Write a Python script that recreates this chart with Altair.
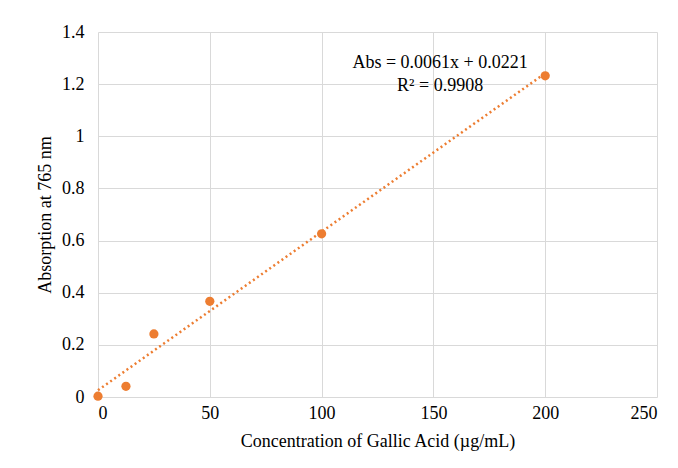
import altair as alt
import pandas as pd

conc = [0, 12.5, 25, 50, 100, 200]
absorb = [0.003, 0.041, 0.242, 0.367, 0.626, 1.232]

ann_x = [153, 153]
ann_y = [1.281, 1.193]
ann_text = ["Abs = 0.0061x + 0.0221", "R² = 0.9908"]

df = pd.DataFrame({"x": conc, "y": absorb})
ann = pd.DataFrame({"x": ann_x, "y": ann_y, "t": ann_text})

ORANGE = "#ED7D31"
FONT = "Liberation Serif"

xs = alt.Scale(domain=[0, 250], nice=False)
ys = alt.Scale(domain=[0, 1.4], nice=False)

xax = alt.Axis(values=[0, 50, 100, 150, 200, 250], title="Concentration of Gallic Acid (µg/mL)",
               domain=False, ticks=False, labelPadding=7, titlePadding=10)
yax = alt.Axis(values=[0, 0.2, 0.4, 0.6, 0.8, 1.0, 1.2, 1.4], title="Absorption at 765 nm",
               domain=False, ticks=False, labelPadding=14, titlePadding=7,
               labelExpr="datum.value == 1 ? '1' : format(datum.value, '.1~f')")

points = alt.Chart(df).mark_circle(size=85, color=ORANGE, opacity=1).encode(
    x=alt.X("x:Q", scale=xs, axis=xax),
    y=alt.Y("y:Q", scale=ys, axis=yax),
)

trend = alt.Chart(df).transform_regression("x", "y", extent=[0, 200]).mark_line(
    color=ORANGE, strokeDash=[2, 3], strokeWidth=2.5
).encode(x=alt.X("x:Q", scale=xs), y=alt.Y("y:Q", scale=ys))

text = alt.Chart(ann).mark_text(font=FONT, fontSize=18, color="#000000", align="center").encode(
    x=alt.X("x:Q", scale=xs), y=alt.Y("y:Q", scale=ys), text="t:N"
)

chart = alt.layer(trend, points, text).properties(
    width=559, height=365,
    autosize=alt.AutoSizeParams(type="none"),
    padding={"left": 90, "top": 24, "right": 10, "bottom": 60},
).configure_view(stroke=None).configure_axis(
    gridColor="#d9d9d9", gridWidth=1,
    labelFont=FONT, titleFont=FONT, labelFontSize=18, titleFontSize=18,
    labelColor="#000000", titleColor="#000000", titleFontWeight="normal",
)

chart.save("out.html", embed_options={"renderer": "svg", "actions": False})
